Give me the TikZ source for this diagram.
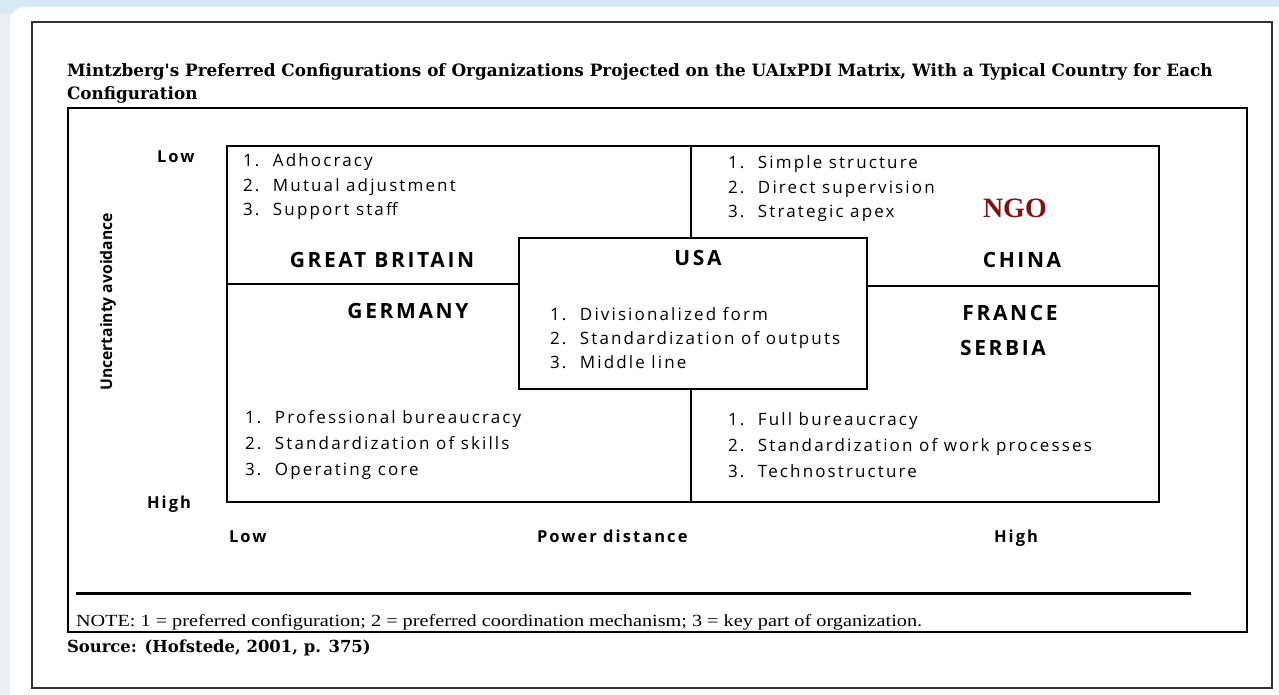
\documentclass[tikz,border=0pt]{standalone}
\usepackage{fontspec}
\setmainfont[LetterSpace=12.5]{Open Sans}
\newfontfamily\headfont[FakeStretch=0.99]{DejaVu Serif}
\newfontfamily\notefont[FakeStretch=1.19]{Liberation Serif}
\newfontfamily\ngofont{Liberation Serif}
\newfontfamily\axisfont[FakeStretch=0.98]{Open Sans}
\definecolor{cardedge}{HTML}{333333}
\definecolor{pagebg}{HTML}{ECEFF2}
\definecolor{topband}{HTML}{D6E9F5}
\definecolor{ngored}{HTML}{7E1416}
\newcommand{\itemrows}[3]{%
  \begin{tabular}[t]{@{}l@{}}
  \makebox[30pt][l]{1.}#1\\
  \makebox[30pt][l]{2.}#2\\
  \makebox[30pt][l]{3.}#3
  \end{tabular}}
\begin{document}
\begin{tikzpicture}[x=1pt,y=-1pt,
  txt/.style={inner sep=0pt, outer sep=0pt},
  itemlist/.style={txt, anchor=base west, font=\fontsize{17}{24.5}\selectfont},
  country/.style={txt, anchor=base, font=\fontsize{21}{24}\selectfont\bfseries},
  axislabel/.style={txt, font=\fontsize{16.5}{19}\selectfont\bfseries},
  frameline/.style={line width=2pt, draw=cardedge},
  boxline/.style={line width=2.5pt, draw=black},
  gridline/.style={line width=2pt, draw=black}]
\useasboundingbox (0,0) rectangle (1279,695);

% page background and white card
\fill[pagebg] (0,0) rectangle (1279,695);
\fill[topband] (0,0) rectangle (1279,14);
\fill[white, rounded corners=14pt] (10,7) rectangle (1300,720);

% outer frame of the card
\draw[frameline] (32,22) rectangle (1272,688);

% title
\node[txt, anchor=base west, font=\fontsize{17}{20}\selectfont\headfont\bfseries] (title1) at (67,77)
  {Mintzberg's Preferred Configurations of Organizations Projected on the UAIxPDI Matrix, With a Typical Country for Each};
\node[txt, anchor=base west, font=\fontsize{17}{20}\selectfont\headfont\bfseries] (title2) at (67,100)
  {Configuration};

% figure box
\draw[boxline] (68,108) rectangle (1247,632);

% matrix frame
\coordinate (mtl) at (227,146);
\coordinate (mbr) at (1159,502);
\draw[gridline] (mtl) rectangle (mbr);

% central box
\node[gridline, draw, rectangle, minimum width=348pt, minimum height=151pt, inner sep=0pt, fill=white] (usa) at (693,313.5) {};
\coordinate (midL) at (227,284);
\coordinate (midR) at (1159,286);
\coordinate (midT) at (691,146);
\coordinate (midB) at (691,502);
\draw[gridline] (midL) -- (midL -| usa.west);
\draw[gridline] (midR -| usa.east) -- (midR);
\draw[gridline] (midT) -- (midT |- usa.north);
\draw[gridline] (midT |- usa.south) -- (midB);

% quadrant contents
\node[itemlist] (qtl) at (243,167) {\itemrows{Adhocracy}{Mutual adjustment}{Support staff}};
\node[itemlist] (qtr) at (728,169) {\itemrows{Simple structure}{Direct supervision}{Strategic apex}};
\node[itemlist, font=\fontsize{17}{24}\selectfont] (qc) at (550,320) {\itemrows{Divisionalized form}{Standardization of outputs}{Middle line}};
\node[itemlist, font=\fontsize{17}{26}\selectfont] (qbl) at (245,423) {\itemrows{Professional bureaucracy}{Standardization of skills}{Operating core}};
\node[itemlist, font=\fontsize{17}{26}\selectfont] (qbr) at (728,425) {\itemrows{Full bureaucracy}{Standardization of work processes}{Technostructure}};

% countries
\node[country] (gb) at (382,267) {GREAT BRITAIN};
\node[country] (us) at (698,265) {USA};
\node[country] (cn) at (1022,267) {CHINA};
\node[country] (de) at (408,318) {GERMANY};
\node[country] (fr) at (1010,320) {FRANCE};
\node[country] (rs) at (1003,355) {SERBIA};
\node[txt, anchor=base west, text=ngored, font=\fontsize{28}{30}\selectfont\ngofont\bfseries] (ngo) at (983,218) {NGO};

% axes
\node[axislabel, anchor=base west] (ulow) at (157,163) {Low};
\node[axislabel, anchor=base west] (uhigh) at (147,508) {High};
\node[axislabel, anchor=base west] (plow) at (229,542) {Low};
\node[axislabel, anchor=base west] (pdist) at (537,542) {Power distance};
\node[axislabel, anchor=base west] (phigh) at (994,542) {High};
\node[txt, rotate=90, font=\fontsize{16}{19}\selectfont\axisfont\bfseries] (ua) at (108,302) {Uncertainty avoidance};

% note and source
\draw[line width=3pt] (76,593) -- (1191,593);
\node[txt, anchor=base west, font=\fontsize{17}{20}\selectfont\notefont] (note) at (76,626)
  {NOTE: 1 = preferred configuration; 2 = preferred coordination mechanism; 3 = key part of organization.};
\node[txt, anchor=base west, font=\fontsize{16.6}{20}\selectfont\headfont\bfseries] (src) at (67,652)
  {Source: (Hofstede, 2001, p. 375)};
\end{tikzpicture}
\end{document}
